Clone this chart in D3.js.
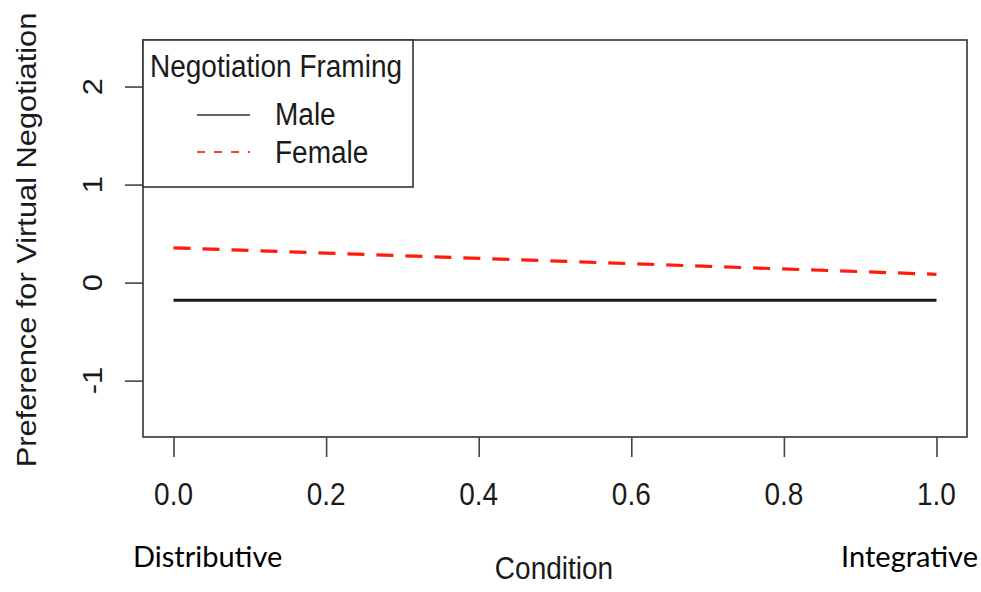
<!DOCTYPE html>
<html><head><meta charset="utf-8">
<script src="https://cdn.jsdelivr.net/npm/d3@7"></script>
<style>body{margin:0;background:#fff;} svg{display:block;}</style>
</head><body>
<script>
const condition = [0, 1];
const maleValues = [-0.18, -0.18];
const femaleValues = [0.355, 0.085];
const seriesNames = ["Male", "Female"];
const xTicks = [0, 0.2, 0.4, 0.6, 0.8, 1.0];
const yTicks = [-1, 0, 1, 2];
const legendTitle = "Negotiation Framing";
const xLabel = "Condition";
const yLabel = "Preference for Virtual Negotiation";
const leftNote = "Distributive";
const rightNote = "Integrative";

const W = 981, H = 592;
const box = {l: 143, r: 967, t: 40, b: 437};
const svg = d3.select("body").append("svg").attr("width", W).attr("height", H);
const x = d3.scaleLinear().domain([-0.04, 1.04]).range([box.l, box.r]);
const y = d3.scaleLinear().domain([-1.575, 2.475]).range([box.b, box.t]);
const font = "'Liberation Sans', Arial, sans-serif";
const FS = 28, VS = 1.1;

function txt(sel, px, py, s, anchor, rot) {
  return sel.append("text")
    .attr("transform", `translate(${px},${py}) scale(1,${VS})` + (rot ? " rotate(-90)" : ""))
    .attr("text-anchor", anchor || "start").attr("font-family", font).attr("font-size", FS)
    .attr("fill", "#1a1a1a").text(s);
}

// plot box
svg.append("rect").attr("x", box.l).attr("y", box.t).attr("width", box.r - box.l).attr("height", box.b - box.t)
  .attr("fill", "none").attr("stroke", "#333").attr("stroke-width", 1.6);

// x axis
const xa = svg.append("g").attr("transform", `translate(0,${box.b})`)
  .call(d3.axisBottom(x).tickValues(xTicks).tickSize(20).tickFormat(d3.format(".1f")));
xa.select(".domain").remove();
xa.selectAll("line").attr("stroke", "#444").attr("stroke-width", 1.6);
xa.selectAll("text").remove();
xTicks.forEach(t => txt(svg, x(t), 505, d3.format(".1f")(t), "middle"));

// y axis
const ya = svg.append("g").attr("transform", `translate(${box.l},0)`)
  .call(d3.axisLeft(y).tickValues(yTicks).tickSize(18));
ya.select(".domain").remove();
ya.selectAll("line").attr("stroke", "#444").attr("stroke-width", 1.6);
ya.selectAll("text").remove();
yTicks.forEach(t => txt(svg, 102, y(t), String(t), "middle", true));

// lines
const line = d3.line().x((d, i) => x(condition[i])).y(d => y(d));
svg.append("path").datum(maleValues).attr("d", line).attr("fill", "none")
  .attr("stroke", "#1a1a1a").attr("stroke-width", 3);
svg.append("path").datum(femaleValues).attr("d", line).attr("fill", "none")
  .attr("stroke", "#ff1a0a").attr("stroke-width", 3.2).attr("stroke-dasharray", "17,12");

// legend
svg.append("rect").attr("x", box.l).attr("y", box.t).attr("width", 413 - box.l).attr("height", 187 - box.t)
  .attr("fill", "#fff").attr("stroke", "#333").attr("stroke-width", 1.6);
txt(svg, 150, 77, legendTitle);
const legY = [115, 152];
svg.append("line").attr("x1", 197).attr("x2", 250).attr("y1", legY[0]).attr("y2", legY[0])
  .attr("stroke", "#666").attr("stroke-width", 2);
svg.append("line").attr("x1", 197).attr("x2", 250).attr("y1", legY[1]).attr("y2", legY[1])
  .attr("stroke", "#ff4030").attr("stroke-width", 2).attr("stroke-dasharray", "8,9");
seriesNames.forEach((s, i) => txt(svg, 275, [125, 163][i], s));

// axis titles
txt(svg, 554, 579, xLabel, "middle");
txt(svg, 36, 240, yLabel, "middle", true);

// notes
svg.append("text").attr("x", 133).attr("y", 567).attr("font-family", "Lato, 'Open Sans', sans-serif")
  .attr("font-size", 29).attr("fill", "#000").text(leftNote);
svg.append("text").attr("x", 978).attr("y", 567).attr("text-anchor", "end").attr("font-family", "Lato, 'Open Sans', sans-serif")
  .attr("font-size", 29).attr("fill", "#000").text(rightNote);
</script>
</body></html>
